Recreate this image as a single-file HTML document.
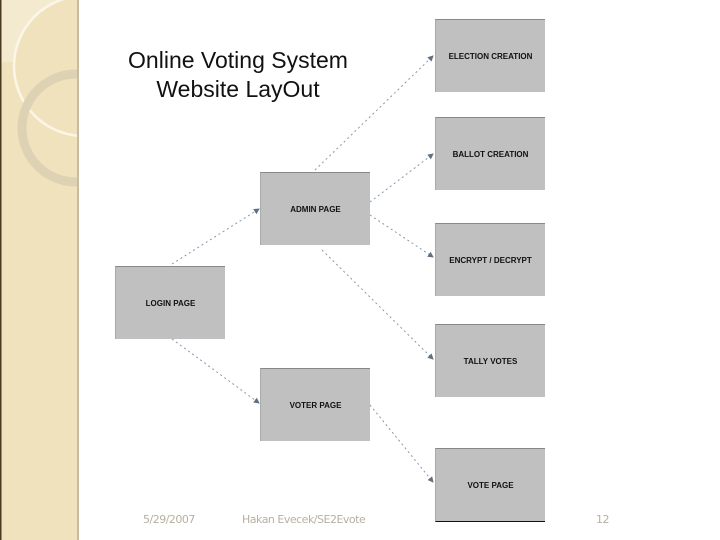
<!DOCTYPE html>
<html><head><meta charset="utf-8"><style>
body{margin:0;width:720px;height:540px;background:#fff;position:relative;overflow:hidden;font-family:"Liberation Sans",sans-serif}
.b{position:absolute;background:#c0c0c0;width:109px;height:72px;display:flex;align-items:center;justify-content:center;font-size:8px;font-weight:bold;color:#111;border-top:1px solid #888;border-left:1px solid #aaa}
.f{position:absolute;top:513px;font-size:11px;color:#b8b0a0;font-family:"DejaVu Sans",sans-serif;letter-spacing:-0.5px}
</style></head><body>
<svg style="position:absolute;left:0;top:0" width="80" height="540">
<defs><clipPath id="c"><rect x="0" y="0" width="78" height="540"/></clipPath></defs>
<rect x="0" y="0" width="78" height="540" fill="#f0e2bc"/>
<g clip-path="url(#c)">
<rect x="0" y="0" width="78" height="62" fill="#f4ead0"/>
<circle cx="84" cy="66" r="70" fill="#f0e2bc"/>
<circle cx="84" cy="66" r="70" fill="none" stroke="#fbf6e8" stroke-width="2.5"/>
<circle cx="76" cy="128" r="54" fill="none" stroke="#ddd2b4" stroke-width="9"/>
</g>
<rect x="0" y="0" width="1.5" height="540" fill="#4a3a20"/>
<rect x="77" y="0" width="2" height="540" fill="#c8bca0"/>
</svg>
<div style="position:absolute;left:100px;top:46px;width:276px;text-align:center;font-size:23px;line-height:29px;color:#111">Online Voting System<br>Website LayOut</div>
<svg style="position:absolute;left:0;top:0" width="720" height="540">
<defs><marker id="a" markerWidth="6" markerHeight="6" refX="5" refY="3" orient="auto"><path d="M0,0 L6,3 L0,6z" fill="#607080"/></marker></defs>
<g stroke="#8899aa" stroke-width="1" stroke-dasharray="2,3" fill="none" marker-end="url(#a)">
<line x1="172" y1="264" x2="259" y2="209"/>
<line x1="172" y1="339" x2="259" y2="403"/>
<line x1="315" y1="170" x2="433" y2="56"/>
<line x1="370" y1="202" x2="433" y2="154"/>
<line x1="370" y1="215" x2="433" y2="257"/>
<line x1="322" y1="250" x2="433" y2="359"/>
<line x1="370" y1="405" x2="433" y2="482"/>
</g></svg>
<div class="b" style="left:115px;top:266px">LOGIN PAGE</div>
<div class="b" style="left:260px;top:172px">ADMIN PAGE</div>
<div class="b" style="left:260px;top:368px">VOTER PAGE</div>
<div class="b" style="left:435px;top:19px">ELECTION CREATION</div>
<div class="b" style="left:435px;top:117px">BALLOT CREATION</div>
<div class="b" style="left:435px;top:223px">ENCRYPT / DECRYPT</div>
<div class="b" style="left:435px;top:324px">TALLY VOTES</div>
<div class="b" style="left:435px;top:448px;border-bottom:1px solid #111">VOTE PAGE</div>
<div class="f" style="left:143px">5/29/2007</div>
<div class="f" style="left:242px">Hakan Evecek/SE2Evote</div>
<div class="f" style="left:596px">12</div>
</body></html>
